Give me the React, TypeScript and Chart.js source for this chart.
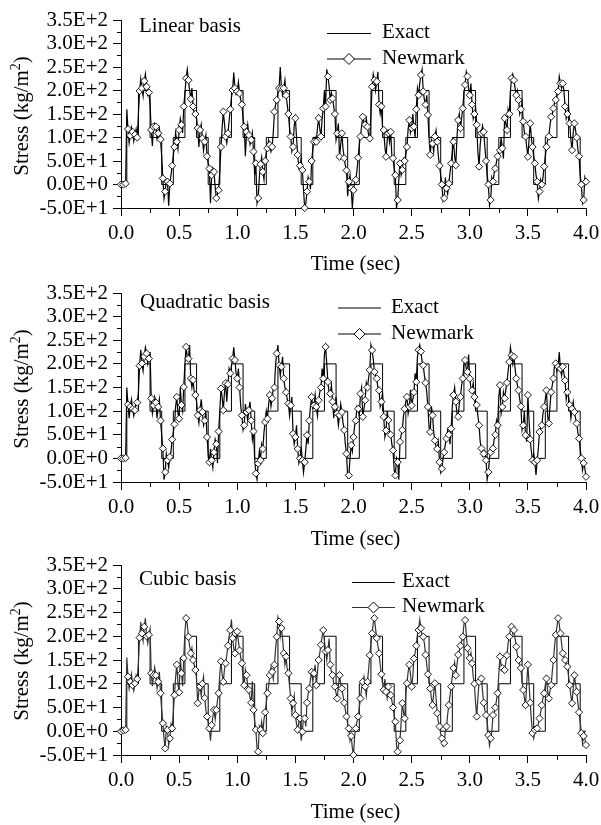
import React, { useEffect, useRef } from 'react';
import { Chart, registerables } from 'chart.js';

Chart.register(...registerables);

const FONT = "'Liberation Serif', 'Times New Roman', Times, serif";

// ---------- data ----------
// Newmark responses: "marked" samples every 0.02 s (drawn with diamonds),
// "mid" samples halfway between them (line only).
const SAMPLE_STEP = 0.02;

const linearMarked = [
  0, 0, 2, 118, 104,
  112, 106, 100, 199, 205,
  220, 208, 196, 116, 123,
  123, 109, 96, 13, -15,
  6, 2, 40, 80, 91,
  116, 127, 166, 226, 222,
  182, 166, 150, 120, 116,
  98, 91, 60, 34, 20,
  27, -29, -12, 80, 155,
  102, 109, 160, 201, 205,
  198, 194, 170, 123, 112,
  105, 95, 70, 45, -29,
  43, 27, 50, 77, 84,
  80, 155, 180, 205, 205,
  205, 190, 150, 102, 80,
  141, 63, 40, 31, -50,
  -15, 6, 50, 91, 91,
  141, 102, 162, 166, 230,
  180, 183, 150, 109, 59,
  109, 56, 30, 6, -8,
  -12, 10, 57, 102, 144,
  127, 123, 98, 208, 222,
  219, 170, 166, 116, 59,
  109, 112, 56, 20, -33,
  45, 31, 50, 80, 137,
  120, 123, 160, 190, 233,
  198, 170, 148, 63, 87,
  102, 91, 40, 0, -29,
  -8, 2, 45, 91, 41,
  137, 120, 162, 212, 230,
  190, 170, 150, 127, 38,
  109, 112, 50, 0, -33,
  6, 34, 60, 73, 77,
  141, 116, 150, 226, 222,
  190, 180, 160, 134, 102,
  59, 130, 80, 45, 6,
  -15, 0, 38, 80, 102,
  144, 162, 180, 198, 215,
  215, 166, 150, 130, 73,
  130, 100, 60, 0, -33,
  6,
];
const linearMid = [
  0, 1, 160, 88, 122,
  92, 118, 150, 225, 188,
  235, 190, 170, 82, 130,
  98, 120, 60, -30, 10,
  -45, 20, 62, 110, 75,
  140, 110, 195, 245, 200,
  205, 150, 140, 80, 128,
  72, 105, 45, -40, 35,
  -5, -20, 30, 120, 130,
  88, 135, 185, 238, 192,
  218, 180, 140, 60, 128,
  85, 110, 20, -40, 15,
  58, 10, 68, 95, 70,
  110, 170, 195, 250, 190,
  222, 170, 120, 70, 125,
  100, 35, 55, -10, -40,
  15, -10, 75, 100, 120,
  118, 140, 200, 245, 210,
  195, 165, 95, 130, 85,
  75, 40, -25, 20, -50,
  5, 30, 85, 125, 132,
  140, 105, 150, 235, 200,
  240, 150, 120, 80, 95,
  90, 60, 35, -50, 10,
  20, 55, 65, 118, 110,
  150, 100, 205, 215, 245,
  180, 190, 100, 95, 70,
  115, 60, 20, -35, 15,
  -20, 25, 70, 60, 100,
  150, 140, 195, 240, 205,
  215, 140, 165, 70, 85,
  125, 80, 20, -45, 15,
  25, 48, 70, 100, 55,
  130, 160, 200, 235, 205,
  200, 150, 175, 110, 80,
  95, 100, 60, 20, -30,
  10, 15, 60, 95, 125,
  150, 175, 190, 230, 205,
  200, 140, 165, 95, 110,
  115, 75, 20, -40, 15,
];

const quadMarked = [
  0, 0, 1, 114, 109,
  105, 102, 118, 196, 201,
  215, 222, 211, 127, 112,
  118, 109, 80, 21, -29,
  -4, 3, 40, 72, 130,
  84, 113, 151, 236, 211,
  169, 166, 134, 91, 102,
  98, 80, 45, -8, -4,
  13, 30, 57, 148, 102,
  159, 157, 180, 211, 208,
  169, 150, 91, 70, 98,
  102, 80, 57, -32, -11,
  -4, 20, 77, 84, 134,
  127, 150, 222, 197, 194,
  169, 140, 116, 112, 52,
  45, 20, 0, -4, -8,
  49, 80, 130, 112, 109,
  123, 150, 169, 236, 162,
  137, 120, 109, 95, 91,
  98, 60, 10, -36, 28,
  45, 80, 105, 137, 88,
  123, 150, 187, 229, 183,
  169, 144, 120, 88, 59,
  81, 50, 17, -36, -8,
  35, 60, 105, 130, 109,
  112, 140, 162, 229, 226,
  197, 160, 109, 56, 91,
  38, 20, -8, -22, 13,
  42, 50, 63, 134, 120,
  88, 130, 169, 208, 183,
  169, 144, 130, 113, 70,
  21, 10, -4, -29, 13,
  21, 50, 70, 155, 109,
  127, 160, 204, 218, 215,
  169, 144, 110, 70, 49,
  134, 40, -4, -8, -4,
  56, 70, 109, 144, 74,
  140, 169, 201, 194, 190,
  194, 165, 140, 113, 105,
  98, 74, 42, 0, -10,
  -39,
];
const quadMid = [
  0, 0, 150, 85, 125,
  90, 120, 140, 230, 185,
  235, 200, 225, 95, 130,
  85, 125, 50, -45, 10,
  -20, 15, 55, 110, 95,
  150, 100, 200, 215, 240,
  150, 140, 120, 75, 125,
  70, 100, 10, 20, -20,
  40, -10, 100, 130, 140,
  120, 190, 195, 235, 180,
  190, 110, 60, 115, 80,
  120, 40, 0, -45, 15,
  30, 55, 100, 115, 110,
  150, 200, 240, 175, 215,
  150, 125, 90, 130, 30,
  70, -10, 25, -30, 20,
  30, 110, 105, 135, 90,
  140, 190, 220, 200, 140,
  155, 85, 130, 70, 115,
  75, 30, -40, 0, 15,
  70, 110, 90, 150, 105,
  160, 170, 240, 210, 175,
  150, 110, 140, 45, 100,
  60, 30, -25, 0, -45,
  50, 90, 120, 95, 145,
  125, 180, 215, 240, 205,
  175, 140, 65, 110, 55,
  25, 35, -30, 0, 30,
  60, 30, 110, 150, 95,
  115, 155, 200, 190, 220,
  150, 160, 105, 90, 35,
  5, 15, -45, 0, 20,
  40, 80, 130, 95, 140,
  145, 185, 235, 200, 190,
  155, 125, 60, 100, 35,
  80, 15, 10, -35, 20,
  65, 95, 125, 90, 110,
  155, 200, 185, 225, 175,
  180, 125, 130, 85, 120,
  85, 55, 20, -25, -20,
];

const cubicMarked = [
  0, 2, 3, 115, 104,
  97, 101, 110, 197, 206,
  220, 200, 203, 122, 118,
  118, 104, 80, 17, -36,
  3, -15, 6, 76, 140,
  82, 122, 154, 238, 199,
  164, 150, 129, 59, 94,
  100, 70, 31, 6, 13,
  45, 45, 80, 147, 104,
  143, 180, 213, 196, 164,
  210, 170, 143, 97, 118,
  87, 60, 45, 3, -43,
  3, -4, 40, 80, 118,
  125, 140, 199, 231, 217,
  164, 157, 122, 69, 59,
  34, 3, 27, -1, 27,
  60, 90, 125, 122, 97,
  150, 182, 213, 168, 171,
  140, 118, 94, 69, 118,
  90, 60, 31, 6, -10,
  -50, 6, 31, 69, 104,
  94, 104, 160, 206, 238,
  196, 164, 120, 87, 83,
  94, 76, 50, 20, -43,
  -19, 59, 27, 101, 140,
  94, 153, 180, 213, 217,
  199, 161, 120, 90, 55,
  101, 38, 10, -15, -25,
  10, 55, 94, 133, 118,
  161, 180, 199, 234, 175,
  154, 143, 100, 31, 104,
  111, 60, 34, -8, -15,
  34, 50, 80, 157, 133,
  129, 160, 199, 220, 213,
  178, 150, 133, 87, 55,
  140, 60, -4, 3, 6,
  27, 55, 80, 111, 69,
  97, 150, 203, 238, 206,
  164, 150, 136, 97, 59,
  118, 83, 40, -4, -10,
  -29,
];
const cubicMid = [
  0, 1, 155, 90, 120,
  85, 118, 145, 230, 190,
  238, 185, 215, 95, 135,
  90, 125, 45, -15, 10,
  -30, 15, 40, 115, 100,
  155, 95, 210, 225, 180,
  175, 140, 110, 85, 75,
  115, 45, 20, -20, 30,
  25, 65, 120, 120, 130,
  160, 200, 235, 175, 190,
  190, 155, 115, 130, 95,
  70, 105, 20, -35, 10,
  20, 25, 60, 95, 135,
  110, 175, 240, 200, 195,
  140, 130, 95, 40, 75,
  15, 20, -20, 30, 10,
  80, 110, 105, 140, 125,
  165, 200, 190, 150, 195,
  125, 100, 80, 95, 100,
  75, 45, 15, -20, -35,
  -10, 20, 50, 90, 115,
  75, 130, 185, 228, 215,
  180, 140, 100, 110, 70,
  80, 65, 35, -30, -25,
  20, 40, 80, 125, 120,
  115, 165, 205, 235, 200,
  185, 140, 105, 70, 80,
  70, 20, -5, -30, 0,
  35, 75, 115, 145, 140,
  170, 190, 225, 205, 160,
  165, 115, 60, 70, 115,
  85, 45, 20, -30, 0,
  40, 65, 120, 140, 125,
  145, 185, 215, 205, 195,
  160, 140, 105, 70, 100,
  100, 25, -15, 10, 15,
  40, 70, 95, 85, 85,
  125, 180, 220, 225, 185,
  155, 140, 115, 75, 90,
  100, 60, 20, -25, -15,
];

// Exact step load response (value holds from its time until the next time)
const exactTimes = [
  0, 0.05, 0.15, 0.25, 0.35, 0.45, 0.55, 0.65, 0.75, 0.85, 0.95,
  1.05, 1.15, 1.25, 1.35, 1.45, 1.55, 1.65, 1.75, 1.85, 1.95,
  2.05, 2.15, 2.25, 2.35, 2.45, 2.55, 2.65, 2.75, 2.85, 2.95,
  3.05, 3.15, 3.25, 3.35, 3.45, 3.55, 3.65, 3.75, 3.85, 3.95, 4.0,
];
const exactLevels = [
  0,
  100, 200, 100, 0, 100, 200, 100, 0, 100, 200,
  100, 0, 100, 200, 100, 0, 100, 200, 100, 0,
  100, 200, 100, 0, 100, 200, 100, 0, 100, 200,
  100, 0, 100, 200, 100, 0, 100, 200, 100, 0,
  0,
];

const yTickValues = [-50, 0, 50, 100, 150, 200, 250, 300, 350];
const yTickLabels = ['-5.0E+1', '0.0E+0', '5.0E+1', '1.0E+2', '1.5E+2', '2.0E+2', '2.5E+2', '3.0E+2', '3.5E+2'];
const yMinorTicks = [-25, 25, 75, 125, 175, 225, 275, 325];
const xMinorTicks = [0.25, 0.75, 1.25, 1.75, 2.25, 2.75, 3.25, 3.75];

const panelTitles = ['Linear basis', 'Quadratic basis', 'Cubic basis'];
const legendLabels = ['Exact', 'Newmark'];
const xAxisTitle = 'Time (sec)';

// ---------- layout ----------
type Panel = {
  title: string;
  marked: number[];
  mid: number[];
  top: number;
  height: number;
  plotBottom: number;
  titleX: number;
  titleY: number;
  legX0: number;
  legX1: number;
  legTextX: number;
  exactY: number;
  newmarkY: number;
  newmarkColor: string;
  xTitleDy: number;
};

const panels: Panel[] = [
  { title: panelTitles[0], marked: linearMarked, mid: linearMid, top: 0, height: 282, plotBottom: 208,
    titleX: 139, titleY: 32, legX0: 327, legX1: 371, legTextX: 382, exactY: 33, newmarkY: 58.5,
    newmarkColor: '#000', xTitleDy: 56 },
  { title: panelTitles[1], marked: quadMarked, mid: quadMid, top: 273, height: 282, plotBottom: 209,
    titleX: 140, titleY: 35, legX0: 338, legX1: 381, legTextX: 391, exactY: 34.5, newmarkY: 60.5,
    newmarkColor: '#000', xTitleDy: 57 },
  { title: panelTitles[2], marked: cubicMarked, mid: cubicMid, top: 545, height: 280, plotBottom: 210,
    titleX: 139, titleY: 40, legX0: 352, legX1: 395, legTextX: 402, exactY: 37, newmarkY: 62,
    newmarkColor: '#333', xTitleDy: 57 },
];

function buildNewmark(marked: number[], mid: number[]) {
  const pts: { x: number; y: number; m: boolean }[] = [];
  for (let i = 0; i < marked.length; i++) {
    pts.push({ x: +(i * SAMPLE_STEP).toFixed(3), y: marked[i], m: true });
    if (i < mid.length && i < marked.length - 1) {
      pts.push({ x: +(i * SAMPLE_STEP + SAMPLE_STEP / 2).toFixed(3), y: mid[i], m: false });
    }
  }
  return pts;
}

function PanelChart({ cfg }: { cfg: Panel }) {
  const ref = useRef<HTMLCanvasElement | null>(null);

  useEffect(() => {
    if (!ref.current) return;
    const decor = {
      id: 'panelDecor',
      afterDraw(chart: any) {
        const { ctx, chartArea: ca, scales } = chart;
        const xs = scales.x;
        const ys = scales.y;
        ctx.save();
        // minor ticks
        ctx.strokeStyle = '#000';
        ctx.lineWidth = 1;
        ctx.beginPath();
        for (const v of yMinorTicks) {
          const py = Math.round(ys.getPixelForValue(v)) + 0.5;
          ctx.moveTo(ca.left - 4, py);
          ctx.lineTo(ca.left, py);
        }
        for (const v of xMinorTicks) {
          const px = Math.round(xs.getPixelForValue(v)) + 0.5;
          ctx.moveTo(px, ca.bottom);
          ctx.lineTo(px, ca.bottom + 5);
        }
        ctx.stroke();

        // panel title
        ctx.fillStyle = '#000';
        ctx.font = `21px ${FONT}`;
        ctx.textAlign = 'left';
        ctx.textBaseline = 'alphabetic';
        ctx.fillText(cfg.title, cfg.titleX, cfg.titleY);

        // legend
        ctx.beginPath();
        ctx.strokeStyle = '#000';
        ctx.moveTo(cfg.legX0, cfg.exactY + 0.5);
        ctx.lineTo(cfg.legX1, cfg.exactY + 0.5);
        ctx.stroke();
        ctx.beginPath();
        ctx.strokeStyle = cfg.newmarkColor;
        ctx.moveTo(cfg.legX0, cfg.newmarkY + 0.5);
        ctx.lineTo(cfg.legX1, cfg.newmarkY + 0.5);
        ctx.stroke();
        const dx = (cfg.legX0 + cfg.legX1) / 2;
        const dy = cfg.newmarkY + 0.5;
        const r = 5.5;
        ctx.beginPath();
        ctx.moveTo(dx - r, dy);
        ctx.lineTo(dx, dy - r);
        ctx.lineTo(dx + r, dy);
        ctx.lineTo(dx, dy + r);
        ctx.closePath();
        ctx.fillStyle = '#fff';
        ctx.fill();
        ctx.strokeStyle = '#000';
        ctx.stroke();
        ctx.fillStyle = '#000';
        ctx.fillText(legendLabels[0], cfg.legTextX, cfg.exactY + 5);
        ctx.fillText(legendLabels[1], cfg.legTextX, cfg.newmarkY + 5);

        // x axis title
        ctx.textAlign = 'center';
        ctx.textBaseline = 'middle';
        ctx.fillText(xAxisTitle, (ca.left + ca.right) / 2 + 2, ca.bottom + cfg.xTitleDy);

        // y axis title with superscript
        ctx.save();
        ctx.translate(20, 116);
        ctx.rotate(-Math.PI / 2);
        const main = 'Stress (kg/m';
        const sup = '2';
        const close = ')';
        ctx.font = `21px ${FONT}`;
        const wMain = ctx.measureText(main).width;
        const wClose = ctx.measureText(close).width;
        ctx.font = `14px ${FONT}`;
        const wSup = ctx.measureText(sup).width;
        const total = wMain + wSup + wClose;
        const x0 = -total / 2;
        const base = 7.5;
        ctx.textAlign = 'left';
        ctx.textBaseline = 'alphabetic';
        ctx.font = `21px ${FONT}`;
        ctx.fillText(main, x0, base);
        ctx.font = `14px ${FONT}`;
        ctx.fillText(sup, x0 + wMain, base - 8);
        ctx.font = `21px ${FONT}`;
        ctx.fillText(close, x0 + wMain + wSup, base);
        ctx.restore();

        ctx.restore();
      },
    };

    const chart = new Chart(ref.current, {
      type: 'line',
      data: {
        datasets: [
          {
            label: legendLabels[1],
            data: buildNewmark(cfg.marked, cfg.mid),
            borderColor: cfg.newmarkColor,
            borderWidth: 1.2,
            tension: 0,
            pointStyle: 'rectRot',
            pointRadius: (c: any) => (c.raw && c.raw.m ? 3.6 : 0),
            pointBackgroundColor: '#fff',
            pointBorderColor: '#000',
            pointBorderWidth: 0.9,
            clip: false,
          } as any,
          {
            label: legendLabels[0],
            data: exactTimes.map((t, i) => ({ x: t, y: exactLevels[i] })),
            borderColor: '#000',
            borderWidth: 1,
            stepped: true,
            pointRadius: 0,
            clip: false,
          } as any,
        ],
      },
      options: {
        responsive: false,
        animation: false,
        events: [],
        layout: { padding: { top: 20, left: 0, right: 15, bottom: 0 } },
        plugins: {
          legend: { display: false },
          tooltip: { enabled: false },
        },
        scales: {
          x: {
            type: 'linear',
            min: 0,
            max: 4,
            ticks: {
              stepSize: 0.5,
              autoSkip: false,
              maxRotation: 0,
              padding: 5,
              color: '#000',
              font: { family: FONT, size: 21, lineHeight: 1.2 },
              callback: (v: any) => Number(v).toFixed(1),
            },
            grid: { display: true, drawOnChartArea: false, drawTicks: true, tickLength: 8, color: '#000', lineWidth: 1 },
            border: { display: true, color: '#000', width: 1 },
            afterFit: (s: any) => {
              s.height = cfg.height - cfg.plotBottom;
              s.paddingLeft = 0;
              s.paddingRight = 0;
            },
          },
          y: {
            type: 'linear',
            min: -50,
            max: 350,
            ticks: {
              stepSize: 50,
              autoSkip: false,
              padding: 5,
              color: '#000',
              font: { family: FONT, size: 21, lineHeight: 1.2 },
              callback: (v: any) => {
                const k = yTickValues.indexOf(Number(v));
                return k >= 0 ? yTickLabels[k] : '';
              },
            },
            grid: { display: true, drawOnChartArea: false, drawTicks: true, tickLength: 8, color: '#000', lineWidth: 1 },
            border: { display: true, color: '#000', width: 1 },
            afterFit: (s: any) => {
              s.width = 121;
              s.paddingTop = 0;
              s.paddingBottom = 0;
            },
          },
        },
      } as any,
      plugins: [decor],
    });
    return () => chart.destroy();
  }, [cfg]);

  return (
    <canvas
      ref={ref}
      width={601}
      height={cfg.height}
      style={{ position: 'absolute', left: 0, top: cfg.top, width: 601, height: cfg.height }}
    />
  );
}

export default function App() {
  return (
    <div
      style={{
        position: 'fixed',
        left: 0,
        top: 0,
        width: 601,
        height: 825,
        overflow: 'hidden',
        background: '#fff',
      }}
    >
      {panels.map((p) => (
        <PanelChart key={p.title} cfg={p} />
      ))}
    </div>
  );
}
